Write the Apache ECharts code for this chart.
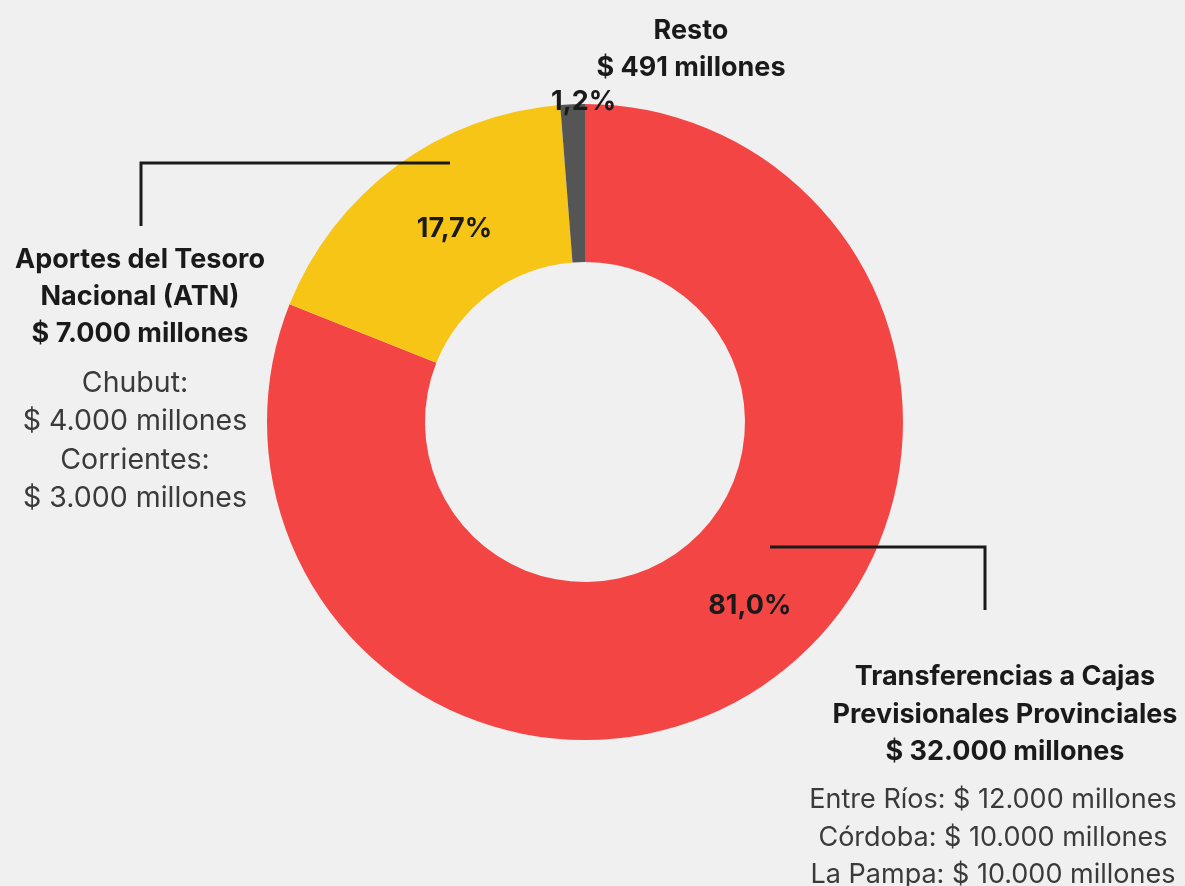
<!DOCTYPE html>
<html>
<head>
<meta charset="utf-8">
<script src="https://cdn.jsdelivr.net/npm/echarts@6/dist/echarts.min.js"></script>
<style>
html,body{margin:0;padding:0;background:#F0F0F0;}
#c{width:1185px;height:886px;}
</style>
</head>
<body>
<div id="c"></div>
<script>
// Data
const categories = ['Transferencias a Cajas Previsionales Provinciales', 'Aportes del Tesoro Nacional (ATN)', 'Resto'];
const values = [32000, 7000, 491];
const colors = ['#F44545', '#F7C516', '#555555'];
const atnTitle = ['Aportes del Tesoro', 'Nacional (ATN)', '$ 7.000 millones'];
const atnDetail = ['Chubut:', '$ 4.000 millones', 'Corrientes:', '$ 3.000 millones'];
const cajasTitle = ['Transferencias a Cajas', 'Previsionales Provinciales', '$ 32.000 millones'];
const cajasDetail = ['Entre Ríos: $ 12.000 millones', 'Córdoba: $ 10.000 millones', 'La Pampa: $ 10.000 millones'];
const restoTitle = ['Resto', '$ 491 millones'];

const total = values.reduce((a, b) => a + b, 0);
const pct = v => (v / total * 100).toFixed(1).replace('.', ',') + '%';

const labelOffsets = [[29, -16], [13, 2], [8, -78]];
const data = values.map((v, i) => ({
  name: categories[i],
  value: v,
  itemStyle: { color: colors[i] },
  label: { offset: labelOffsets[i] }
}));

const FONT = 'Inter, "Noto Sans", sans-serif';
function textLines(lines, cx, y0, step, weight, size, color) {
  return lines.map((t, i) => ({
    type: 'text',
    z: 100,
    style: {
      text: t, x: cx, y: y0 + i * step,
      textAlign: 'center', textVerticalAlign: 'middle',
      font: weight + ' ' + size + 'px ' + FONT,
      fill: color
    }
  }));
}

const chart = echarts.init(document.getElementById('c'));
chart.setOption({
  backgroundColor: '#F0F0F0',
  animation: false,
  series: [{
    type: 'pie',
    center: [585, 422],
    radius: [160, 318],
    startAngle: 90,
    clockwise: true,
    avoidLabelOverlap: false,
    z: 1,
    label: {
      show: true,
      position: 'inside',
      formatter: p => pct(p.value),
      fontFamily: FONT,
      fontWeight: 700,
      fontSize: 27,
      color: '#1a1a1a'
    },
    labelLine: { show: false },
    emphasis: { disabled: true },
    data: data
  }],
  graphic: [
    { type: 'polyline', z: 100, shape: { points: [[141, 226], [141, 163], [450, 163]] },
      style: { stroke: '#1a1a1a', lineWidth: 3, fill: null } },
    { type: 'polyline', z: 100, shape: { points: [[770, 547], [985, 547], [985, 610]] },
      style: { stroke: '#1a1a1a', lineWidth: 3, fill: null } },
    ...textLines(restoTitle, 691, 31, 37, 'bold', 27, '#1a1a1a'),
    ...textLines(atnTitle, 140, 260, 37, 'bold', 27, '#1a1a1a'),
    ...textLines(atnDetail, 135, 383, 38.5, 'normal', 28.5, '#3a3a3a'),
    ...textLines(cajasTitle, 1005, 677, 37.5, 'bold', 27, '#1a1a1a'),
    ...textLines(cajasDetail, 993, 800, 37.5, 'normal', 27, '#3a3a3a')
  ]
});
</script>
</body>
</html>
